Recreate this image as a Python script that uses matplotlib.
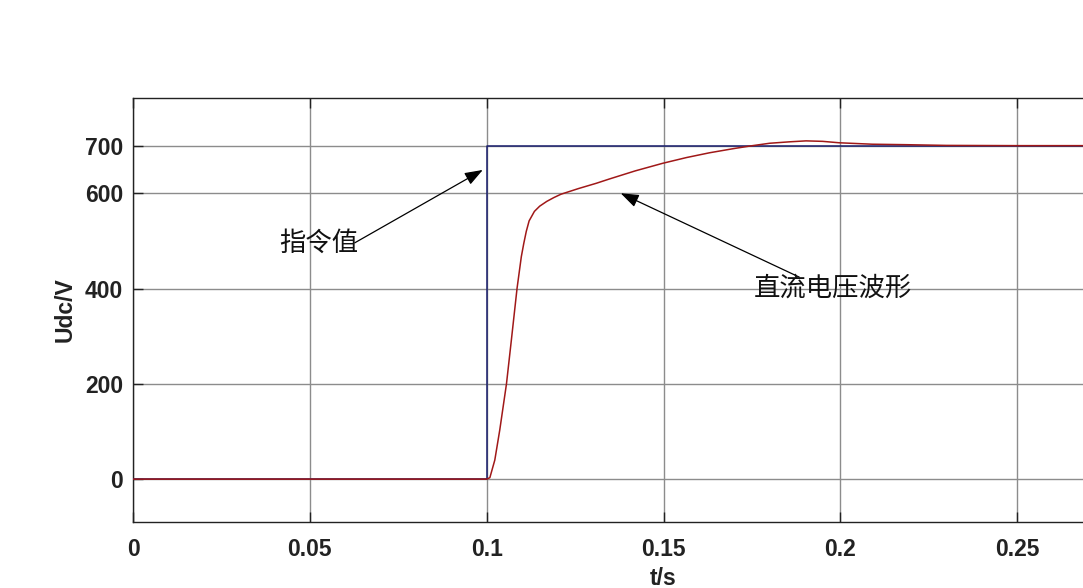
import matplotlib
matplotlib.use("Agg")
import matplotlib.pyplot as plt
import numpy as np

# Data
ref_t = [0.0, 0.1, 0.1, 0.3]
ref_v = [0, 0, 700, 700]

udc_t = [0.0, 0.1, 0.1009, 0.1023, 0.1037, 0.1056, 0.1070, 0.1086, 0.1098, 0.1105,
         0.1112, 0.1120, 0.1135, 0.1150, 0.1170, 0.1190, 0.1210, 0.1260, 0.1310,
         0.1347, 0.1420, 0.1498, 0.1565, 0.1630, 0.1700, 0.1752, 0.1800, 0.1856,
         0.1903, 0.1950, 0.1997, 0.2090, 0.2186, 0.2300, 0.2500, 0.3]
udc_v = [0, 0, 3, 40, 103, 200, 293, 401, 467, 495,
         520, 542, 562, 573, 583, 591, 598, 610, 621,
         630, 647, 663, 675, 685, 694, 700, 705, 708,
         710, 709, 706, 703, 702, 700.5, 700, 700]

xticks = [0, 0.05, 0.1, 0.15, 0.2, 0.25]
xticklabels = ["0", "0.05", "0.1", "0.15", "0.2", "0.25"]
yticks = [0, 200, 400, 600, 700]
yticklabels = ["0", "200", "400", "600", "700"]

label_ref = "指令值"
label_udc = "直流电压波形"

fig = plt.figure(figsize=(10.83, 5.88), dpi=100)
ax = fig.add_axes([133/1083, 66/588, 1061/1083, 424/588])

ax.plot(ref_t, ref_v, color="#1a1f6e", lw=1.1, zorder=3)
ax.plot(udc_t, udc_v, color="#a01818", lw=1.1, zorder=4)

ax.set_xlim(0, 0.3)
ax.set_ylim(-90, 800)
ax.set_xticks(xticks)
ax.set_xticklabels(xticklabels)
ax.set_yticks(yticks)
ax.set_yticklabels(yticklabels)
ax.grid(True, color="#8c8c8c", lw=1.0)
ax.set_axisbelow(True)

for sp in ax.spines.values():
    sp.set_color("#222222")
    sp.set_linewidth(1.0)

tickfont = dict(family="Liberation Sans", weight="bold", size=16.5)
ax.tick_params(axis="both", direction="in", length=7, width=1.0, color="#222222",
               top=True, right=True)
ax.tick_params(axis="x", pad=11.5)
ax.tick_params(axis="y", pad=7)
for lab in ax.get_xticklabels() + ax.get_yticklabels():
    lab.set_fontfamily("Liberation Sans")
    lab.set_fontweight("bold")
    lab.set_fontsize(16.5)
    lab.set_color("#222222")

ax.set_ylabel("Udc/V", fontdict=tickfont, color="#222222")
ax.yaxis.set_label_coords(-0.0528, 0.5)
ax.set_xlabel("t/s", fontdict=tickfont, color="#222222", va="baseline")
ax.xaxis.set_label_coords(0.5, -0.1486)

cjk = ["Noto Sans CJK SC", "DejaVu Sans"]
ax.annotate("", xy=(0.0989, 649), xytext=(0.0627, 496),
            arrowprops=dict(arrowstyle="-|>,head_length=1.1,head_width=0.4",
                            color="black", lw=0.9, shrinkA=0, shrinkB=0))
ax.text(0.0525, 496, label_ref, family=cjk, fontsize=19, ha="center", va="center",
        color="#111111")

ax.annotate("", xy=(0.1379, 600), xytext=(0.1884, 424),
            arrowprops=dict(arrowstyle="-|>,head_length=1.1,head_width=0.4",
                            color="black", lw=0.9, shrinkA=0, shrinkB=0))
ax.text(0.198, 400, label_udc, family=cjk, fontsize=19, ha="center", va="center",
        color="#111111")

fig.savefig("out.png", dpi=100)
